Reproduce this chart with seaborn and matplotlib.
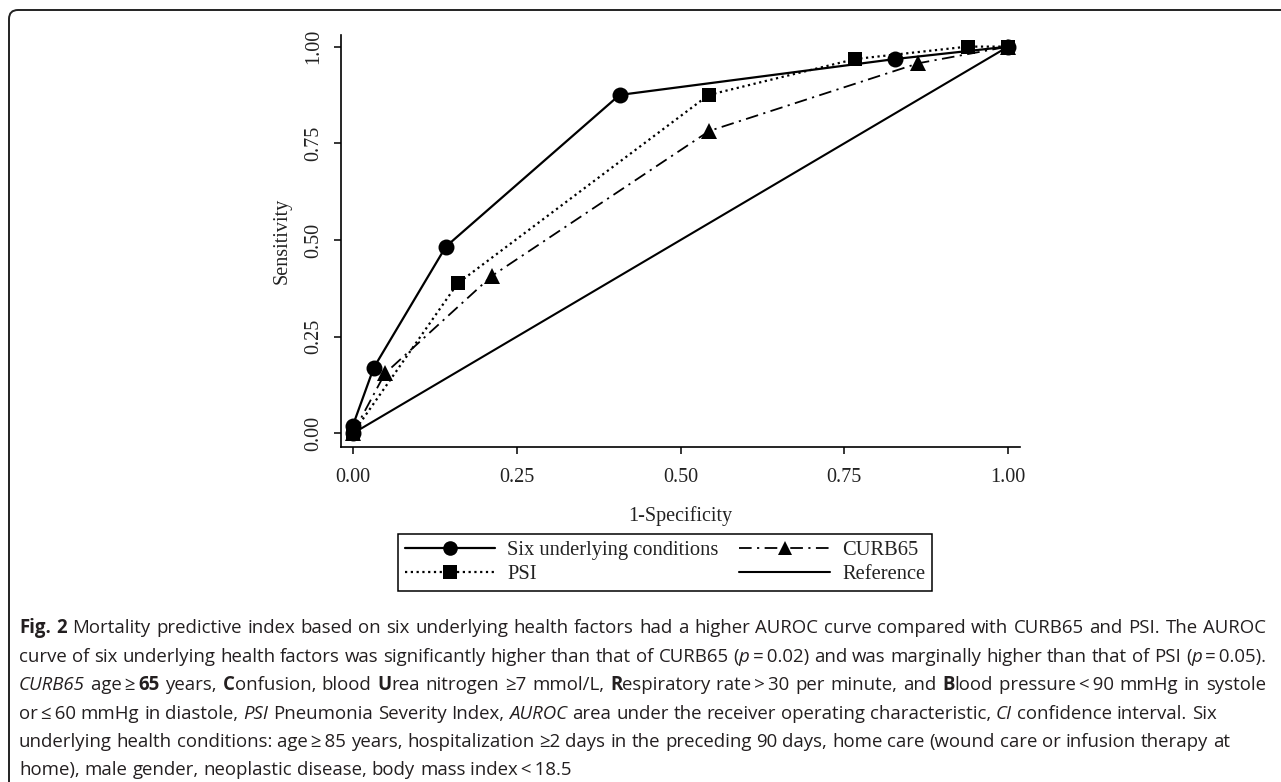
import numpy as np
import pandas as pd
import matplotlib
matplotlib.use("Agg")
import matplotlib.pyplot as plt
import seaborn as sns
from matplotlib.lines import Line2D
from matplotlib.patches import FancyBboxPatch
from matplotlib.transforms import IdentityTransform
from matplotlib.font_manager import FontProperties

# ---------------- data ----------------
six_x = [0.0, 0.0, 0.032, 0.142, 0.407, 0.828, 1.0]
six_y = [0.0, 0.02, 0.170, 0.483, 0.875, 0.968, 1.0]
psi_x = [0.0, 0.160, 0.543, 0.767, 0.938, 1.0]
psi_y = [0.0, 0.388, 0.875, 0.968, 1.0, 1.0]
curb_x = [0.0, 0.049, 0.212, 0.544, 0.863, 1.0]
curb_y = [0.0, 0.155, 0.407, 0.782, 0.957, 1.0]
ref_x = [0.0, 1.0]
ref_y = [0.0, 1.0]
series_names = ["Six underlying conditions", "PSI", "CURB65", "Reference"]
tick_values = [0.0, 0.25, 0.5, 0.75, 1.0]
tick_labels = ["0.00", "0.25", "0.50", "0.75", "1.00"]
x_label = "1-Specificity"
y_label = "Sensitivity"

caption_lines = [
    [("Fig. 2", "B"), (" Mortality predictive index based on six underlying health factors had a higher AUROC curve compared with CURB65 and PSI. The AUROC", "N")],
    [("curve of six underlying health factors was significantly higher than that of CURB65 (", "N"), ("p", "I"), ("\u2009=\u20090.02) and was marginally higher than that of PSI (", "N"), ("p", "I"), ("\u2009=\u20090.05).", "N")],
    [("CURB65", "I"), (" age\u2009\u2265\u2009", "N"), ("65", "B"), (" years, ", "N"), ("C", "B"), ("onfusion, blood ", "N"), ("U", "B"), ("rea nitrogen \u22657 mmol/L, ", "N"), ("R", "B"), ("espiratory rate\u2009>\u200930 per minute, and ", "N"), ("B", "B"), ("lood pressure\u2009<\u200990 mmHg in systole", "N")],
    [("or\u2009\u2264\u200960 mmHg in diastole, ", "N"), ("PSI", "I"), (" Pneumonia Severity Index, ", "N"), ("AUROC", "I"), (" area under the receiver operating characteristic, ", "N"), ("CI", "I"), (" confidence interval. Six", "N")],
    [("underlying health conditions: age\u2009\u2265\u200985 years, hospitalization \u22652 days in the preceding 90 days, home care (wound care or infusion therapy at", "N")],
    [("home), male gender, neoplastic disease, body mass index\u2009<\u200918.5", "N")],
]
justified = [True, True, True, False, False, False]

# ---------------- styling ----------------
sns.set_theme(style="white")
plt.rcParams["font.family"] = ["Liberation Serif", "DejaVu Serif"]
plt.rcParams["axes.unicode_minus"] = False

W, H = 1281, 782
fig = plt.figure(figsize=(W / 100, H / 100), dpi=100)
fig.patch.set_facecolor("white")

ax_l, ax_r, ax_t, ax_b = 341, 1020, 35, 447
ax = fig.add_axes([ax_l / W, 1 - ax_b / H, (ax_r - ax_l) / W, (ax_b - ax_t) / H])
ax.set_facecolor("white")

df = pd.concat([
    pd.DataFrame({"x": six_x, "y": six_y, "series": series_names[0]}),
    pd.DataFrame({"x": psi_x, "y": psi_y, "series": series_names[1]}),
    pd.DataFrame({"x": curb_x, "y": curb_y, "series": series_names[2]}),
    pd.DataFrame({"x": ref_x, "y": ref_y, "series": series_names[3]}),
], ignore_index=True)

styles = {
    "Reference": dict(marker=None, linestyle="-", linewidth=1.5, ms=0),
    "CURB65": dict(marker="^", linestyle=(0, (7, 3, 1.2, 3)), linewidth=1.3, ms=11.5),
    "PSI": dict(marker="s", linestyle=(0, (1, 1.6)), linewidth=1.6, ms=10.5),
    "Six underlying conditions": dict(marker="o", linestyle="-", linewidth=1.6, ms=11.5),
}
for name in ["Reference", "CURB65", "PSI", "Six underlying conditions"]:
    st = styles[name]
    kw = dict(color="black", linewidth=st["linewidth"], linestyle=st["linestyle"])
    if st["marker"]:
        kw.update(marker=st["marker"], markersize=st["ms"], markeredgewidth=0,
                  markerfacecolor="black")
    sns.lineplot(data=df[df["series"] == name], x="x", y="y", sort=False,
                 estimator=None, ax=ax, legend=False, **kw)

ax.set_xlim(-0.018, 1.018)
ax.set_ylim(-0.035, 1.03)
ax.set_xticks(tick_values)
ax.set_xticklabels(tick_labels)
ax.set_yticks(tick_values)
ax.set_yticklabels(tick_labels, rotation=90, va="center")
for side in ["top", "right"]:
    ax.spines[side].set_visible(False)
for side in ["left", "bottom"]:
    ax.spines[side].set_color("black")
    ax.spines[side].set_linewidth(1.2)
ax.tick_params(axis="both", length=5, width=1.1, color="black", direction="out",
               labelsize=14.5, labelcolor="#222222", bottom=True, left=True)
ax.tick_params(axis="y", pad=8)
ax.tick_params(axis="x", pad=10)
ax.set_xlabel(x_label, fontsize=14.5, color="#222222")
ax.set_ylabel(y_label, fontsize=14.5, color="#222222")
ax.xaxis.label.set_va("center")
ax.yaxis.label.set_va("center")
ax_w, ax_h = ax_r - ax_l, ax_b - ax_t
ax.xaxis.set_label_coords(0.5, (ax_b - 516) / ax_h)
ax.yaxis.set_label_coords((282 - ax_l) / ax_w, 0.5)

# legend
handles = []
for name in series_names:
    st = styles[name]
    handles.append(Line2D([], [], color="black", linewidth=st["linewidth"],
                          linestyle=st["linestyle"],
                          marker=st["marker"] if st["marker"] else None,
                          markersize=st["ms"] - 1, markeredgewidth=0))
leg = fig.legend(handles, series_names, ncol=2, loc="upper center",
                 bbox_to_anchor=(665 / W, 1 - 534 / H), frameon=True,
                 fancybox=False, edgecolor="black", framealpha=1,
                 fontsize=14.8, handlelength=4.4, handletextpad=0.6,
                 columnspacing=1.0, borderpad=0.33, labelspacing=0.22,
                 borderaxespad=0)
leg.get_frame().set_linewidth(1.1)
for t in leg.get_texts():
    t.set_color("#222222")

# rounded frame around the figure
frame = FancyBboxPatch((9, -40), 1400, (H - 10) + 40,
                       boxstyle="round,pad=0,rounding_size=9",
                       transform=IdentityTransform(), facecolor="none",
                       edgecolor="#222222", linewidth=1.4)
fig.add_artist(frame)

# caption
fig.canvas.draw()
renderer = fig.canvas.get_renderer()
cap_family = ["Open Sans", "DejaVu Sans"]

def fprops(style, size):
    return FontProperties(family=cap_family, size=size,
                          weight="bold" if style == "B" else "normal",
                          style="italic" if style == "I" else "normal")

def run_width(s, fp):
    w1, _, _ = renderer.get_text_width_height_descent("|" + s + "|", fp, ismath=False)
    w2, _, _ = renderer.get_text_width_height_descent("||", fp, ismath=False)
    return w1 - w2

def words_of(line):
    words = [[]]
    for s, st in line:
        parts = s.split(" ")
        for i, p in enumerate(parts):
            if i > 0:
                words.append([])
            if p:
                words[-1].append((p, st))
    return [w for w in words if w]

def natural_width(line, size):
    ws = words_of(line)
    sw = run_width(" ", fprops("N", size))
    return sum(run_width(p, fprops(st, size)) for w in ws for p, st in w) + sw * (len(ws) - 1)

x0, x_right = 19, 1266
base = 12.0
widest = max(natural_width(caption_lines[i], base) for i in range(3))
cap_size = base * ((x_right - x0 - 2) / widest)

baselines = [633, 662, 690, 719, 747, 775]
for line, yb, just in zip(caption_lines, baselines, justified):
    ws = words_of(line)
    widths = [[run_width(p, fprops(st, cap_size)) for p, st in w] for w in ws]
    total = sum(sum(w) for w in widths)
    if just and len(ws) > 1:
        gap = (x_right - x0 - total) / (len(ws) - 1)
    else:
        gap = run_width(" ", fprops("N", cap_size))
    x = x0
    for w, wl in zip(ws, widths):
        for (p, st), pw in zip(w, wl):
            fig.text(x / W, 1 - yb / H, p, fontproperties=fprops(st, cap_size),
                     ha="left", va="baseline", color="#231f20")
            x += pw
        x += gap

fig.savefig("out.png", dpi=100, facecolor="white")
